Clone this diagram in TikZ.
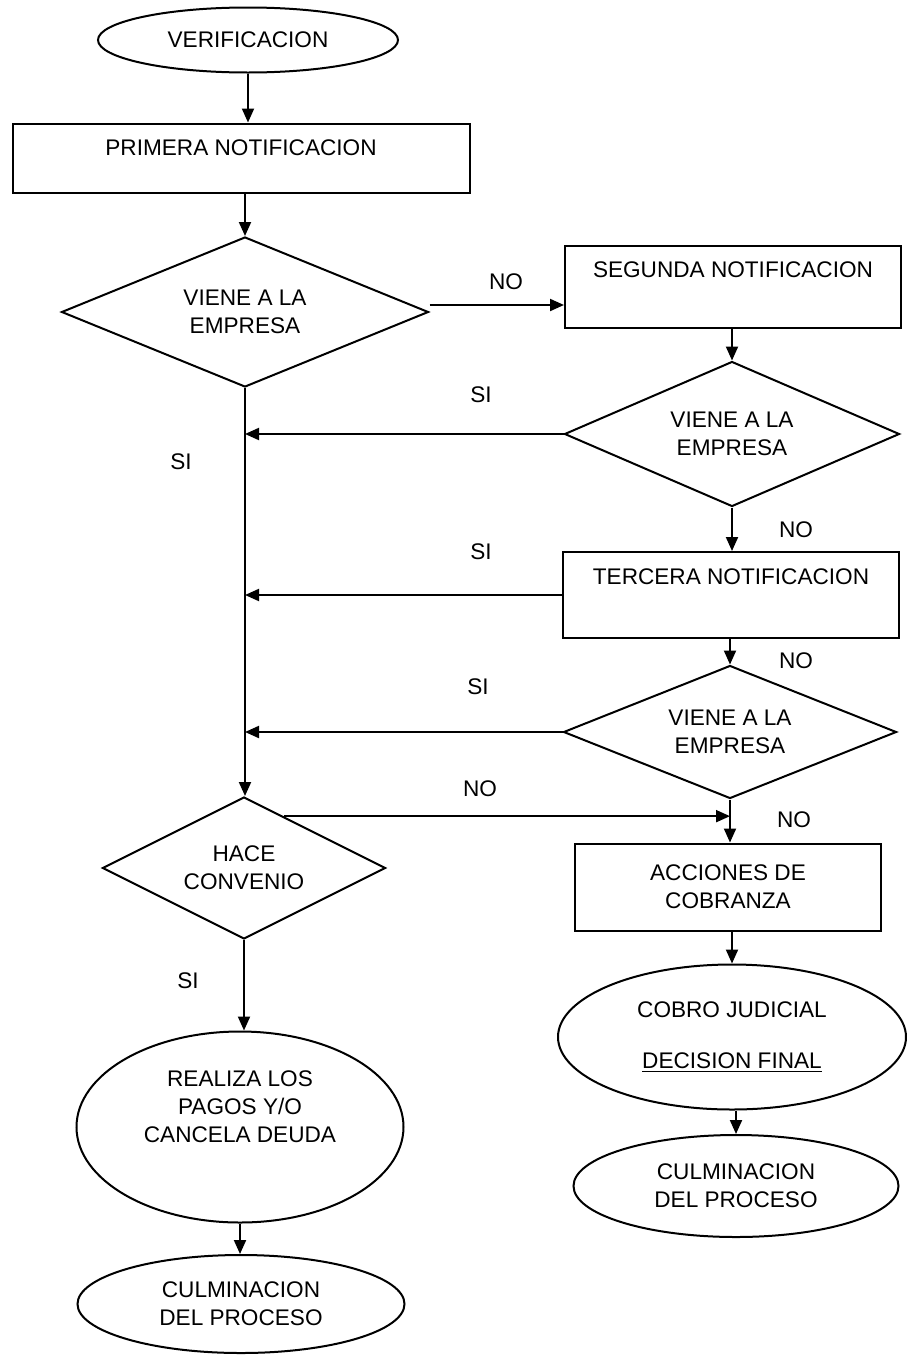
\documentclass[tikz,border=0pt]{standalone}
\usepackage{fontspec}
\setmainfont{Liberation Sans}
\usetikzlibrary{calc,shapes.geometric,arrows.meta}

\begin{document}
\begin{tikzpicture}[%
    x=0.5pt,y=-0.5pt,%
    every node/.style={font=\fontsize{11.3}{14}\selectfont,align=center},%
    linea/.style={line width=1pt},%
    flecha/.style={linea,-{Triangle[length=7pt,width=6pt]}},%
    caja/.style={draw,linea,rectangle,inner sep=2pt},%
    rombo/.style={draw,linea,diamond,shape aspect=2,inner sep=0pt},%
    elipse/.style={draw,linea,ellipse,inner sep=1pt},%
    etiqueta/.style={inner sep=0pt}%
    ]
  \useasboundingbox (0,0) rectangle (906,1355);%

  % Nodos
  \node[elipse,minimum width=150pt,minimum height=32.5pt] (verif) at (248,40) {VERIFICACION};%
  \node[caja,minimum width=228.5pt,minimum height=34.5pt,text depth=10pt] (prim) at (241,158) {PRIMERA NOTIFICACION};%
  \node[rombo,minimum width=183.5pt,minimum height=75pt] (d1) at (245,312) {VIENE A LA\\EMPRESA};%
  \node[caja,minimum width=168pt,minimum height=41pt,text depth=17pt] (seg) at (733,287) {SEGUNDA NOTIFICACION};%
  \node[rombo,minimum width=167.5pt,minimum height=72.5pt] (d2) at (732,434) {VIENE A LA\\EMPRESA};%
  \node[caja,minimum width=168pt,minimum height=43pt,text depth=18pt] (ter) at (731,595) {TERCERA NOTIFICACION};%
  \node[rombo,minimum width=166.5pt,minimum height=66.5pt] (d3) at (730,732) {VIENE A LA\\EMPRESA};%
  \node[rombo,minimum width=141.5pt,minimum height=71pt] (hace) at (244,868) {HACE\\CONVENIO};%
  \node[caja,minimum width=153pt,minimum height=43.5pt] (acc) at (728,887) {ACCIONES DE\\COBRANZA};%
  \node[elipse,minimum width=174pt,minimum height=72.5pt] (cobro) at (732,1037) {COBRO JUDICIAL\\[11.5pt]\underline{DECISION FINAL}};%
  \node[elipse,minimum width=162.5pt,minimum height=51pt] (fin2) at (736,1186) {CULMINACION\\DEL PROCESO};%
  \node[elipse,minimum width=163.5pt,minimum height=95.5pt] (pago) at (240,1127) {REALIZA LOS\\PAGOS Y/O\\CANCELA DEUDA\\[6pt]\mbox{}};%
  \node[elipse,minimum width=163.5pt,minimum height=49pt] (fin1) at (241,1304) {CULMINACION\\DEL PROCESO};%

  % Etiquetas
  \node[etiqueta] (no1) at (506,282) {NO};%
  \node[etiqueta] (si1) at (481,395) {SI};%
  \node[etiqueta] (si0) at (181,462) {SI};%
  \node[etiqueta] (no2) at (796,530) {NO};%
  \node[etiqueta] (si2) at (481,552) {SI};%
  \node[etiqueta] (no3) at (796,661) {NO};%
  \node[etiqueta] (si3) at (478,687) {SI};%
  \node[etiqueta] (no4) at (480,789) {NO};%
  \node[etiqueta] (no5) at (794,820) {NO};%
  \node[etiqueta] (si4) at (188,981) {SI};%

  % Conectores
  \draw[flecha] (verif.south) -- (verif.south |- prim.north);%
  \draw[flecha] (d1.north |- prim.south) -- (d1.north);%
  \draw[flecha] ([yshift=3.5pt]d1.east) -- ([yshift=3.5pt]d1.east -| seg.west);%
  \draw[flecha] (d2.north |- seg.south) -- (d2.north);%
  \draw[flecha] (d2.west) -- (d2.west -| d1.south);%
  \draw[flecha] (d2.south) -- (d2.south |- ter.north);%
  \draw[flecha] (ter.west) -- (ter.west -| d1.south);%
  \draw[flecha] (d3.north |- ter.south) -- (d3.north);%
  \draw[flecha] (d3.west) -- (d3.west -| d1.south);%
  \draw[flecha] (d1.south) -- (d1.south |- hace.north);%
  \draw[flecha] (d3.south) -- (d3.south |- acc.north);%
  \coordinate (hace-ne) at ($(hace.north)!0.28!(hace.east)$);%
  \draw[flecha] (hace-ne) -- (hace-ne -| d3.south);%
  \draw[flecha] (cobro.north |- acc.south) -- (cobro.north);%
  \draw[flecha] (fin2.north |- cobro.south) -- (fin2.north);%
  \draw[flecha] (hace.south) -- (hace.south |- pago.north);%
  \draw[flecha] (pago.south) -- (pago.south |- fin1.north);%
\end{tikzpicture}
\end{document}
